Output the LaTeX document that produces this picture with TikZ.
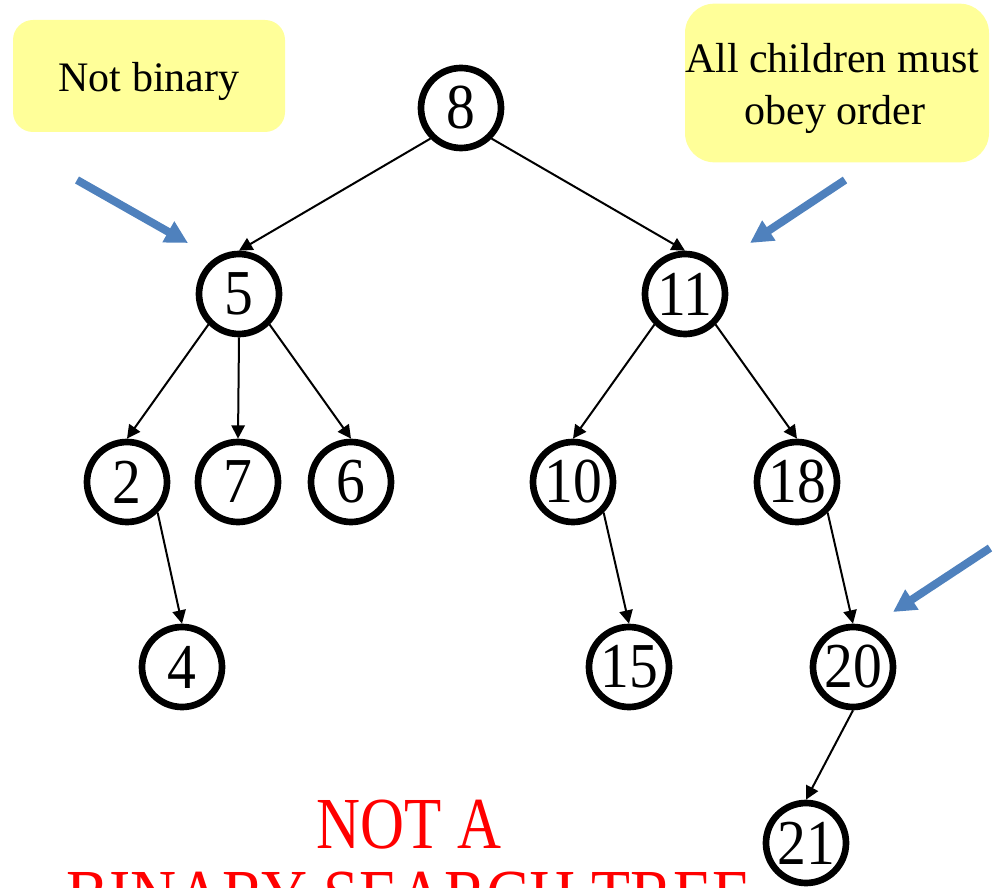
\documentclass[tikz,border=0pt]{standalone}
\usepackage{fontspec}
\setmainfont{Liberation Serif}
\usetikzlibrary{arrows.meta}
\definecolor{notefill}{HTML}{FFFF99}
\definecolor{pointer}{HTML}{4F81BD}
\definecolor{alert}{HTML}{FF0000}
% horizontally condensed text, as in the tree keys and the verdict
\newcommand{\squeezed}[2][0.9]{\scalebox{#1}[1]{#2}}
\begin{document}
\begin{tikzpicture}[x=0.75pt,y=-0.75pt,
  key/.style={circle, draw, line width=5pt, minimum size=60pt, inner sep=0pt,
    font=\fontsize{48}{48}\selectfont},
  link/.style={line width=1.5pt, -{Triangle[length=10pt,width=10pt]}},
  notebox/.style={fill=notefill, rounded corners=15pt, inner sep=0pt},
  notetext/.style={anchor=base, inner sep=0pt, font=\fontsize{31.5}{39}\selectfont},
  hint/.style={draw=pointer, line width=6pt, -{Triangle[length=17pt,width=17pt]}},
  verdict/.style={text=alert, anchor=base, inner sep=0pt,
    font=\fontsize{55}{55}\selectfont}
]
\useasboundingbox (0,0) rectangle (1000,888);
\clip (0,0) rectangle (1000,888);

% callout boxes
\node[notebox, minimum width=204pt, minimum height=84pt] (notbinary) at (149,76) {};
\node[notetext] (notbinarytext) at (149,92) {Not binary};
\node[notebox, rounded corners=22pt, minimum width=228pt, minimum height=119pt] (order) at (837,83) {};
\node[notetext] (ordertext1) at (832,73) {All children must};
\node[notetext] (ordertext2) at (835,125) {obey order};

% tree keys
\node[key] (n8)  at (461,108) {\squeezed{8}};
\node[key] (n5)  at (239,294) {\squeezed{5}};
\node[key] (n11) at (685,294) {\squeezed{11}};
\node[key] (n2)  at (127,482) {\squeezed{2}};
\node[key] (n7)  at (238,482) {\squeezed{7}};
\node[key] (n6)  at (351,482) {\squeezed{6}};
\node[key] (n10) at (573,482) {\squeezed{10}};
\node[key] (n18) at (797,482) {\squeezed{18}};
\node[key] (n4)  at (182,667) {\squeezed{4}};
\node[key] (n15) at (629,667) {\squeezed{15}};
\node[key] (n20) at (853,667) {\squeezed{20}};
\node[key] (n21) at (806,843) {\squeezed{21}};

% parent-to-child links
\draw[link] (n8.south west)  -- (n5.north);
\draw[link] (n8.south east)  -- (n11.north);
\draw[link] (n5.south west)  -- (n2.north);
\draw[link] (n5.south)       -- (n7.north);
\draw[link] (n5.south east)  -- (n6.north);
\draw[link] (n11.south west) -- (n10.north);
\draw[link] (n11.south east) -- (n18.north);
\draw[link] (n2.south east)  -- (n4.north);
\draw[link] (n10.south east) -- (n15.north);
\draw[link] (n18.south east) -- (n20.north);
\draw[link] (n20.south)      -- (n21.north);

% pointers to the offending nodes
\coordinate (p1) at (77,180);  \coordinate (q1) at (188,243);
\coordinate (p2) at (845,180); \coordinate (q2) at (750,243);
\coordinate (p3) at (990,548); \coordinate (q3) at (893,612);
\draw[hint] (p1) -- (q1);
\draw[hint] (p2) -- (q2);
\draw[hint] (p3) -- (q3);

% verdict
\node[verdict] (verdict1) at (409,848) {\squeezed[0.83]{NOT A}};
\node[verdict] (verdict2) at (409,920) {\squeezed[0.87]{BINARY SEARCH TREE}};
\end{tikzpicture}
\end{document}
